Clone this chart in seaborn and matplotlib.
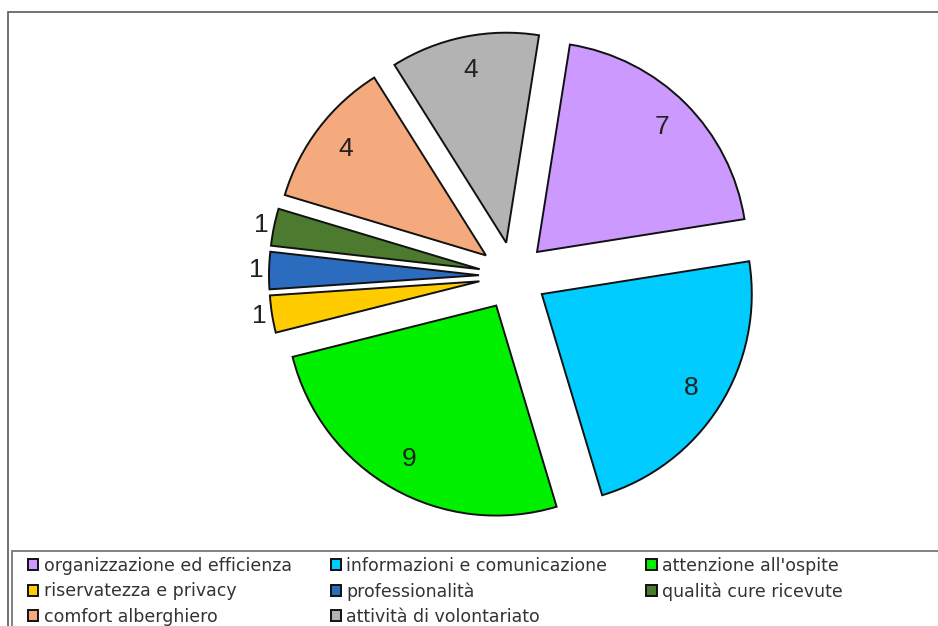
import matplotlib
matplotlib.use("Agg")
import matplotlib.pyplot as plt
from matplotlib.patches import Rectangle
import numpy as np
import seaborn as sns

# data
categories = [
    "organizzazione ed efficienza",
    "informazioni e comunicazione",
    "attenzione all'ospite",
    "riservatezza e privacy",
    "professionalità",
    "qualità cure ricevute",
    "comfort alberghiero",
    "attività di volontariato",
]
counts = [7, 8, 9, 1, 1, 1, 4, 4]
slice_colors = ["#CC99FF", "#00CCFF", "#00F000", "#FFCC00",
                "#2B6CBF", "#4C7A2E", "#F5AA7D", "#B3B3B3"]

sns.set_theme(style="white")
plt.rcParams["font.family"] = ["DejaVu Sans"]
palette = sns.color_palette(slice_colors)

W, H = 938, 626
fig = plt.figure(figsize=(W / 100, H / 100), dpi=100)
ax = fig.add_axes([0, 0, 1, 1])
ax.set_xlim(0, W)
ax.set_ylim(0, H)
ax.set_aspect("equal")

radius = 210
# explode is in data units here (axes are in pixels)
wedges, _ = ax.pie(
    counts,
    colors=palette,
    startangle=81,
    counterclock=False,
    explode=[34] * len(counts),
    center=(513, H - 276),
    radius=radius,
    wedgeprops=dict(edgecolor="#111111", linewidth=1.4),
    frame=True,
)
ax.set_xlim(0, W)
ax.set_ylim(0, H)
ax.axis("off")

# value labels: inside for big slices, outside for the tiny ones
for w, v in zip(wedges, counts):
    mid = np.deg2rad((w.theta1 + w.theta2) / 2)
    dist = 0.84 if v > 1 else 1.06
    cx, cy = w.center
    ax.text(cx + radius * dist * np.cos(mid), cy + radius * dist * np.sin(mid),
            str(v), ha="center", va="center", fontsize=19,
            family="Liberation Sans", color="#222222")

# outer frame and legend box
fig.add_artist(Rectangle((8 / W, -0.1), 2, (H - 12) / H + 0.1,
                         transform=fig.transFigure, fill=False,
                         edgecolor="#666666", linewidth=1.3))
fig.add_artist(Rectangle((12 / W, -0.1), 2, (H - 551) / H + 0.1,
                         transform=fig.transFigure, fill=False,
                         edgecolor="#777777", linewidth=1.3))

order = [0, 3, 6, 1, 4, 7, 2, 5]
leg = fig.legend(
    [wedges[i] for i in order], [categories[i] for i in order],
    ncol=3, loc="upper left", bbox_to_anchor=(28 / W, (H - 557) / H),
    frameon=False, fontsize=12.5, handlelength=0.6, handleheight=0.6,
    handletextpad=0.3, columnspacing=2.25, labelspacing=0.42,
    borderpad=0, borderaxespad=0,
)
for t in leg.get_texts():
    t.set_color("#333333")

fig.savefig("out.png", dpi=100)
